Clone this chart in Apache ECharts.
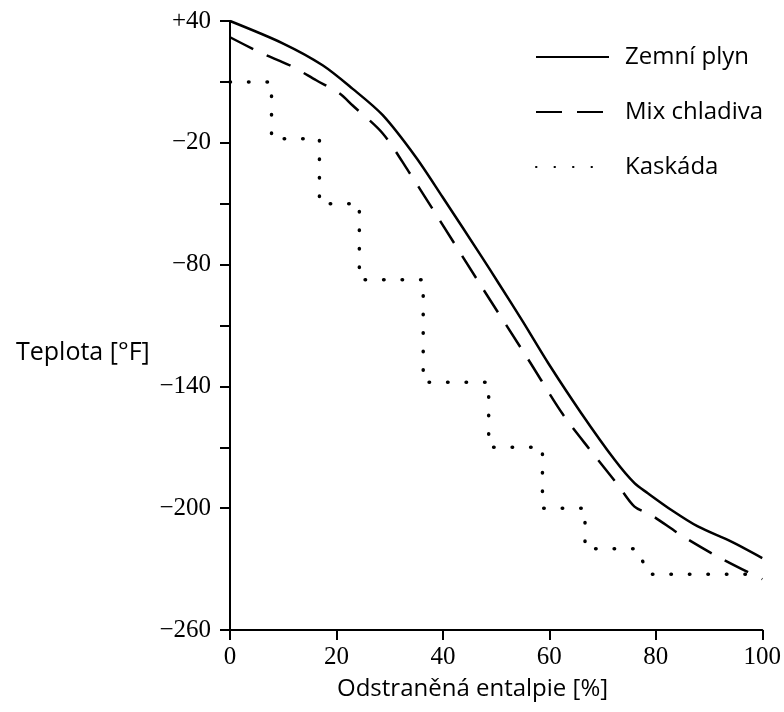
<!DOCTYPE html>
<html>
<head>
<meta charset="utf-8">
<script src="https://cdn.jsdelivr.net/npm/echarts@6/dist/echarts.min.js"></script>
<style>
  html, body { margin: 0; padding: 0; background: #fff; }
  #chart { width: 784px; height: 712px; }
</style>
</head>
<body>
<div id="chart"></div>
<script>
// Zemní plyn (solid)
const gasX = [0, 10, 17.4, 23, 28.7, 34.9, 39.9, 47.3, 50.5, 55, 59.8, 66, 72.3, 76, 78.5, 83, 87.9, 94.1, 100]
const gasY = [40, 28.9, 18.2, 6.7, -6.4, -27, -46.6, -76.2, -89.3, -108, -128.6, -153.2, -176.3, -187.7, -192.6, -201, -209, -216.4, -224.6]

// Mix chladiva (dashed)
const mixX = [0, 5.9, 11.2, 16.2, 20.6, 23, 28.7, 33.6, 38, 47.3, 56.1, 62.6, 67.9, 72.9, 76, 79.1, 84.7, 91.6, 100]
const mixY = [32, 24.2, 18.2, 10.8, 4.3, -1.5, -15.4, -34.3, -52.3, -91, -127, -154, -172.1, -188.6, -199.2, -203.3, -213.2, -223.8, -235]

// Kaskáda (dotted steps)
const casX = [0, 7.8, 7.8, 16.8, 16.8, 24.3, 24.3, 36.3, 36.3, 48.6, 48.6, 58.7, 58.7, 66.7, 66.7, 76.6, 78.5, 98]
const casY = [10, 10, -18, -18, -50, -50, -87.5, -87.5, -138, -138, -170, -170, -200, -200, -220, -220, -232.5, -232.5]

const yLabelValues = [40, -20, -80, -140, -200, -260]
const yTickValues = [40, 10, -20, -50, -80, -110, -140, -170, -200, -260]

const pairs = (xs, ys) => xs.map((x, i) => [x, ys[i]])

const chart = echarts.init(document.getElementById('chart'))

const serifLabel = {
    color: '#000',
    fontFamily: 'Liberation Serif',
    fontSize: 25
}

chart.setOption({
    animation: false,
    title: [
        {
            text: 'Teplota [°F]',
            left: 11,
            top: 335,
            textStyle: { fontFamily: 'Open Sans', fontSize: 25, fontWeight: 'normal', color: '#000' }
        },
        {
            text: 'Odstraněná entalpie [%]',
            left: 332,
            top: 672,
            textStyle: { fontFamily: 'Open Sans', fontSize: 24, fontWeight: 'normal', color: '#000' }
        }
    ],
    legend: {
        orient: 'vertical',
        left: 530,
        top: 40,
        itemWidth: 73,
        itemHeight: 14,
        itemGap: 31,
        itemStyle: { opacity: 0 },
        textStyle: {
            fontFamily: 'Open Sans',
            fontSize: 24,
            color: '#000',
            lineHeight: 24,
            padding: [0, 0, 0, 11]
        },
        data: ['Zemní plyn', 'Mix chladiva', 'Kaskáda']
    },
    grid: {
        left: 230,
        right: 19,
        top: 21,
        bottom: 82
    },
    xAxis: {
        type: 'value',
        min: 0,
        max: 100,
        interval: 20,
        splitLine: { show: false },
        axisLine: { onZero: false, lineStyle: { color: '#000', width: 2 } },
        axisTick: { length: 10, lineStyle: { color: '#000', width: 2 } },
        axisLabel: { ...serifLabel, margin: 15 }
    },
    yAxis: {
        type: 'value',
        min: -260,
        max: 40,
        splitLine: { show: false },
        axisLine: { show: true, lineStyle: { color: '#000', width: 2 } },
        axisTick: {
            show: true,
            length: 10,
            customValues: yTickValues,
            lineStyle: { color: '#000', width: 2 }
        },
        axisLabel: {
            ...serifLabel,
            margin: 19,
            customValues: yLabelValues,
            formatter(v) {
                if (v > 0) return '+' + v
                if (v < 0) return '\u2212' + (-v)
                return '0'
            }
        }
    },
    series: [
        {
            name: 'Zemní plyn',
            type: 'line',
            data: pairs(gasX, gasY),
            smooth: 0.3,
            symbol: 'none',
            lineStyle: { color: '#000', width: 2.5 },
            itemStyle: { color: '#000' }
        },
        {
            name: 'Mix chladiva',
            type: 'line',
            data: pairs(mixX, mixY),
            smooth: 0.3,
            symbol: 'none',
            lineStyle: { color: '#000', width: 2.5, type: [26, 15] },
            itemStyle: { color: '#000' }
        },
        {
            name: 'Kaskáda',
            type: 'line',
            data: pairs(casX, casY),
            symbol: 'none',
            lineStyle: { color: '#000', width: 3.5, type: [0.5, 18], cap: 'round' },
            itemStyle: { color: '#000' }
        }
    ]
})
</script>
</body>
</html>
